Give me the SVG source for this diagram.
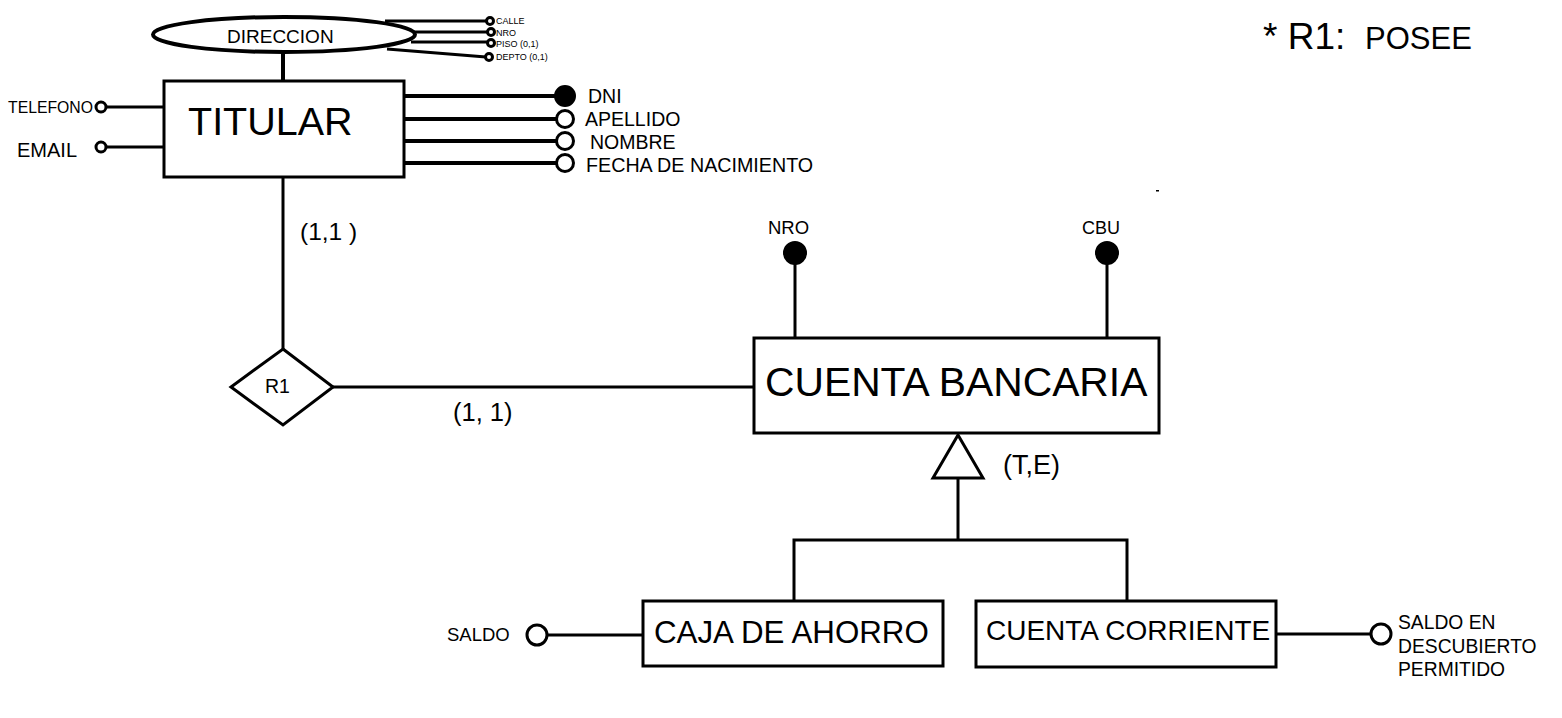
<svg xmlns="http://www.w3.org/2000/svg" width="1562" height="718" viewBox="0 0 1562 718">
<style>
text{font-family:"Liberation Sans",Arial,sans-serif;fill:#000}
.ent{fill:#fff;stroke:#000;stroke-width:3}
.ln{stroke:#000;stroke-width:3;fill:none}
.thk{stroke:#000;stroke-width:4;fill:none}
.oc{fill:#fff;stroke:#000;stroke-width:3}
.fc{fill:#000;stroke:#000;stroke-width:2}
</style>
<rect width="1562" height="718" fill="#fff"/>
<g id="connectors">
<line class="thk" x1="283" y1="52" x2="283" y2="81"/>
<line class="ln" x1="385" y1="21" x2="486" y2="21"/>
<line class="ln" x1="413" y1="32" x2="487" y2="32"/>
<line class="ln" x1="411" y1="42" x2="488" y2="42"/>
<line class="ln" stroke-width="2" x1="387" y1="49" x2="486" y2="57"/>
<line class="ln" x1="106" y1="107" x2="164" y2="107"/>
<line class="ln" x1="106" y1="147" x2="164" y2="147"/>
<line class="thk" x1="404" y1="96" x2="557" y2="96"/>
<line class="thk" x1="404" y1="119" x2="557" y2="119"/>
<line class="thk" x1="404" y1="141" x2="557" y2="141"/>
<line class="thk" x1="404" y1="163" x2="557" y2="163"/>
<line class="ln" x1="283" y1="177" x2="283" y2="349"/>
<line class="ln" x1="333" y1="387" x2="754" y2="387"/>
<line class="ln" x1="795" y1="253" x2="795" y2="338"/>
<line class="ln" x1="1107" y1="253" x2="1107" y2="338"/>
<line class="ln" x1="958" y1="478" x2="958" y2="540"/>
<polyline class="ln" points="794,601 794,540 1127,540 1127,601"/>
<line class="ln" x1="548" y1="635" x2="643" y2="635"/>
<line class="ln" x1="1276" y1="634" x2="1370" y2="634"/>
<polygon points="958,435 933,478 983,478" fill="#fff" stroke="#000" stroke-width="3" stroke-linejoin="miter"/>
</g>
<g id="direccion">
<ellipse cx="284" cy="34.5" rx="131" ry="17.5" fill="#fff" stroke="#000" stroke-width="4"/>
<text x="227" y="43" font-size="19">DIRECCION</text>
</g>
<g id="attr-calle"><circle class="oc" stroke-width="2" cx="490" cy="21" r="3.5"/><text x="496" y="24" font-size="9">CALLE</text></g>
<g id="attr-nro-dir"><circle class="oc" stroke-width="2" cx="491" cy="32" r="3.5"/><text x="496" y="36" font-size="9">NRO</text></g>
<g id="attr-piso"><circle class="oc" stroke-width="2" cx="491" cy="43" r="3.5"/><text x="496" y="47" font-size="9">PISO (0,1)</text></g>
<g id="attr-depto"><circle class="oc" stroke-width="2" cx="489" cy="57" r="3.5"/><text x="496" y="60" font-size="9">DEPTO (0,1)</text></g>
<g id="titular">
<rect class="ent" x="164" y="81" width="240" height="96"/>
<text x="188" y="135" font-size="39.5">TITULAR</text>
</g>
<g id="attr-telefono"><circle class="oc" cx="101" cy="107" r="5"/><text x="8" y="113" font-size="16" textLength="85" lengthAdjust="spacingAndGlyphs">TELEFONO</text></g>
<g id="attr-email"><circle class="oc" cx="101" cy="147" r="5"/><text x="17" y="157" font-size="20">EMAIL</text></g>
<g id="attr-dni"><circle class="fc" cx="565" cy="96" r="10"/><text x="588" y="103" font-size="19.5">DNI</text></g>
<g id="attr-apellido"><circle class="oc" stroke-width="4" cx="565" cy="119" r="8.5"/><text x="585" y="126" font-size="19.5">APELLIDO</text></g>
<g id="attr-nombre"><circle class="oc" stroke-width="4" cx="565" cy="141" r="8.5"/><text x="590" y="149" font-size="19.5">NOMBRE</text></g>
<g id="attr-fecha"><circle class="oc" stroke-width="4" cx="565" cy="163" r="8.5"/><text x="586" y="172" font-size="19.7">FECHA DE NACIMIENTO</text></g>
<rect x="1156" y="190" width="3" height="1.5" fill="#000"/>
<g id="r1">
<polygon points="283,349 333,387 283,425 231,387" fill="#fff" stroke="#000" stroke-width="3"/>
<text x="265" y="393" font-size="19.5">R1</text>
</g>
<text x="300" y="240" font-size="24.5">(1,1 )</text>
<text x="453" y="421" font-size="25.5">(1, 1)</text>
<g id="cuenta-bancaria">
<rect class="ent" x="754" y="338" width="405" height="95"/>
<text x="765" y="396" font-size="40.8">CUENTA BANCARIA</text>
</g>
<g id="attr-nro"><circle class="fc" cx="795" cy="253" r="11"/><text x="768" y="234" font-size="18.5">NRO</text></g>
<g id="attr-cbu"><circle class="fc" cx="1107" cy="253" r="11"/><text x="1082" y="234" font-size="18">CBU</text></g>
<text x="1003" y="474" font-size="27">(T,E)</text>
<g id="caja-ahorro">
<rect class="ent" x="643" y="601" width="300" height="65"/>
<text x="654" y="643" font-size="31.3">CAJA DE AHORRO</text>
</g>
<g id="attr-saldo"><circle class="oc" cx="537" cy="635" r="10"/><text x="447" y="641" font-size="18.5">SALDO</text></g>
<g id="cuenta-corriente">
<rect class="ent" x="976" y="601" width="300" height="66"/>
<text x="986" y="640" font-size="28">CUENTA CORRIENTE</text>
</g>
<g id="attr-saldo-desc"><circle class="oc" cx="1381" cy="634" r="10"/>
<text font-size="19.3"><tspan x="1398" y="629">SALDO EN</tspan><tspan x="1398" y="653">DESCUBIERTO</tspan><tspan x="1398" y="676">PERMITIDO</tspan></text>
</g>
<g id="nota">
<text y="49"><tspan x="1263" font-size="37">* R1:</tspan><tspan x="1365" font-size="31">POSEE</tspan></text>
</g>
</svg>
